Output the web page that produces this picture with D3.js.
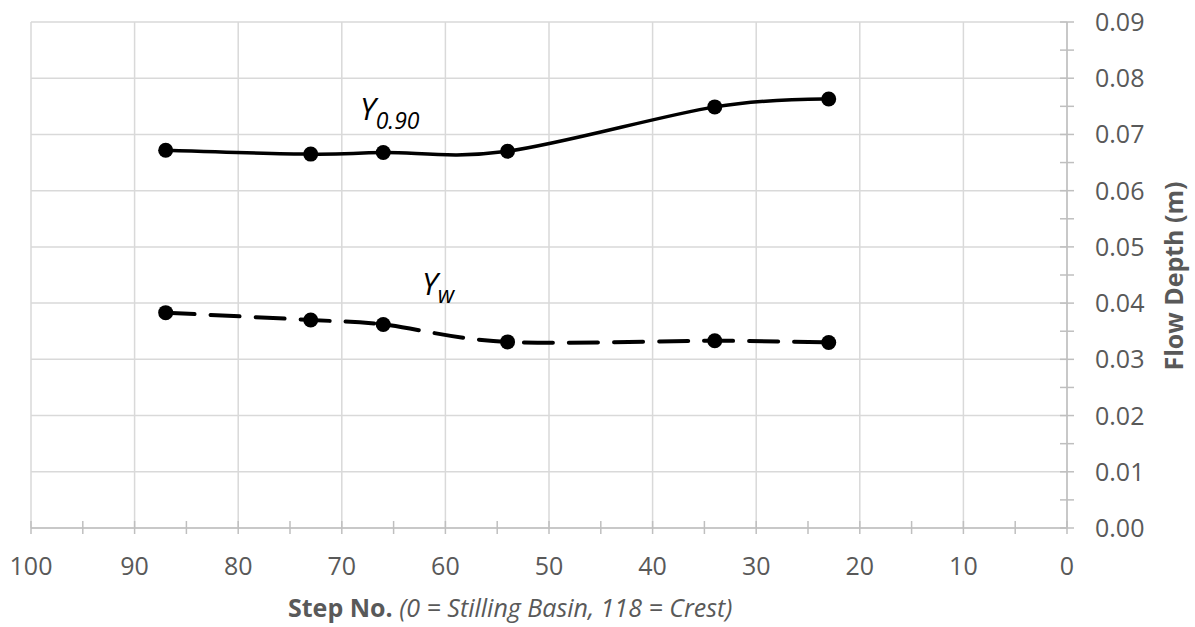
<!DOCTYPE html>
<html>
<head>
<meta charset="utf-8">
<script src="https://cdn.jsdelivr.net/npm/d3@7"></script>
<style>
  body { margin: 0; background: #fff; }
  svg { display: block; font-family: "Open Sans", sans-serif; }
</style>
</head>
<body>
<svg id="chart" width="1195" height="627"></svg>
<script>
// step numbers (x) and flow depths in m (y)
var steps = [87, 73, 66, 54, 34, 23];
var y090 = [0.0672, 0.0665, 0.0668, 0.0670, 0.0749, 0.0763];
var yw = [0.0383, 0.0370, 0.0362, 0.0331, 0.0333, 0.0330];
var xTicks = [100, 90, 80, 70, 60, 50, 40, 30, 20, 10, 0];
var yTicks = [0, 0.01, 0.02, 0.03, 0.04, 0.05, 0.06, 0.07, 0.08, 0.09];

var plotLeft = 31, plotRight = 1067, plotTop = 22, plotBottom = 528;
var textColor = "#595959", gridColor = "#d9d9d9", axisColor = "#bfbfbf";

var svg = d3.select("#chart");

var x = d3.scaleLinear().domain([100, 0]).range([plotLeft, plotRight]);
var y = d3.scaleLinear().domain([0, 0.09]).range([plotBottom, plotTop]);

// gridlines
svg.append("g").selectAll("line")
    .data(xTicks)
    .enter().append("line")
    .attr("x1", function (d) { return x(d); })
    .attr("x2", function (d) { return x(d); })
    .attr("y1", plotTop).attr("y2", plotBottom)
    .attr("stroke", gridColor).attr("stroke-width", 1.5);

svg.append("g").selectAll("line")
    .data(yTicks)
    .enter().append("line")
    .attr("x1", plotLeft).attr("x2", plotRight)
    .attr("y1", function (d) { return y(d); })
    .attr("y2", function (d) { return y(d); })
    .attr("stroke", gridColor).attr("stroke-width", 1.5);

// x axis, ticks every 5 crossing the line
var xAxis = svg.append("g");
xAxis.append("line")
    .attr("x1", plotLeft).attr("x2", plotRight)
    .attr("y1", plotBottom).attr("y2", plotBottom)
    .attr("stroke", axisColor).attr("stroke-width", 1.5);
xAxis.selectAll(".tk")
    .data(d3.range(0, 101, 5))
    .enter().append("line")
    .attr("class", "tk")
    .attr("x1", function (d) { return x(d); })
    .attr("x2", function (d) { return x(d); })
    .attr("y1", plotBottom - 7).attr("y2", plotBottom + 6)
    .attr("stroke", axisColor).attr("stroke-width", 1.5);
xAxis.selectAll("text")
    .data(xTicks)
    .enter().append("text")
    .attr("x", function (d) { return x(d); })
    .attr("y", 575)
    .attr("text-anchor", "middle")
    .attr("font-size", 25)
    .attr("fill", textColor)
    .text(function (d) { return d; });

// y axis on the right
var yAxis = svg.append("g");
yAxis.append("line")
    .attr("x1", plotRight).attr("x2", plotRight)
    .attr("y1", plotTop).attr("y2", plotBottom)
    .attr("stroke", axisColor).attr("stroke-width", 1.5);
yAxis.selectAll(".tk")
    .data(d3.range(0, 19).map(function (i) { return i * 0.005; }))
    .enter().append("line")
    .attr("class", "tk")
    .attr("x1", plotRight - 7).attr("x2", plotRight + 7)
    .attr("y1", function (d) { return y(d); })
    .attr("y2", function (d) { return y(d); })
    .attr("stroke", axisColor).attr("stroke-width", 1.5);
yAxis.selectAll("text")
    .data(yTicks)
    .enter().append("text")
    .attr("x", 1095)
    .attr("y", function (d) { return y(d) + 9; })
    .attr("font-size", 25)
    .attr("fill", textColor)
    .text(function (d) { return d3.format(".2f")(d); });

// axis titles
var xt = svg.append("text")
    .attr("x", 288).attr("y", 617)
    .attr("font-size", 25)
    .attr("fill", textColor);
xt.append("tspan").attr("font-weight", "bold").text("Step No. ");
xt.append("tspan").attr("font-style", "italic").text("(0 = Stilling Basin, 118 = Crest)");

svg.append("text")
    .attr("transform", "translate(1183,276) rotate(-90)")
    .attr("text-anchor", "middle")
    .attr("font-size", 25)
    .attr("font-weight", "bold")
    .attr("fill", textColor)
    .text("Flow Depth (m)");

// series
var line = d3.line()
    .x(function (d) { return x(d[0]); })
    .y(function (d) { return y(d[1]); })
    .curve(d3.curveCatmullRom.alpha(0));

var s1 = d3.zip(steps, y090), s2 = d3.zip(steps, yw);

svg.append("path")
    .attr("d", line(s1))
    .attr("fill", "none").attr("stroke", "#000").attr("stroke-width", 3.5);

svg.append("path")
    .attr("d", line(s2))
    .attr("fill", "none").attr("stroke", "#000").attr("stroke-width", 4)
    .attr("stroke-dasharray", "29 16")
    .attr("stroke-linecap", "round");

[s1, s2].forEach(function (s) {
    svg.append("g").selectAll("circle")
        .data(s)
        .enter().append("circle")
        .attr("cx", function (d) { return x(d[0]); })
        .attr("cy", function (d) { return y(d[1]); })
        .attr("r", 7.5)
        .attr("fill", "#000");
});

// series labels
var l1 = svg.append("text").attr("x", 360).attr("y", 120)
    .attr("font-style", "italic").attr("fill", "#000");
l1.append("tspan").attr("font-size", 31).text("Y");
l1.append("tspan").attr("font-size", 23).attr("dy", 9).text("0.90");

var l2 = svg.append("text").attr("x", 422).attr("y", 295)
    .attr("font-style", "italic").attr("fill", "#000");
l2.append("tspan").attr("font-size", 31).text("Y");
l2.append("tspan").attr("font-size", 23).attr("dy", 8).text("w");
</script>
</body>
</html>
